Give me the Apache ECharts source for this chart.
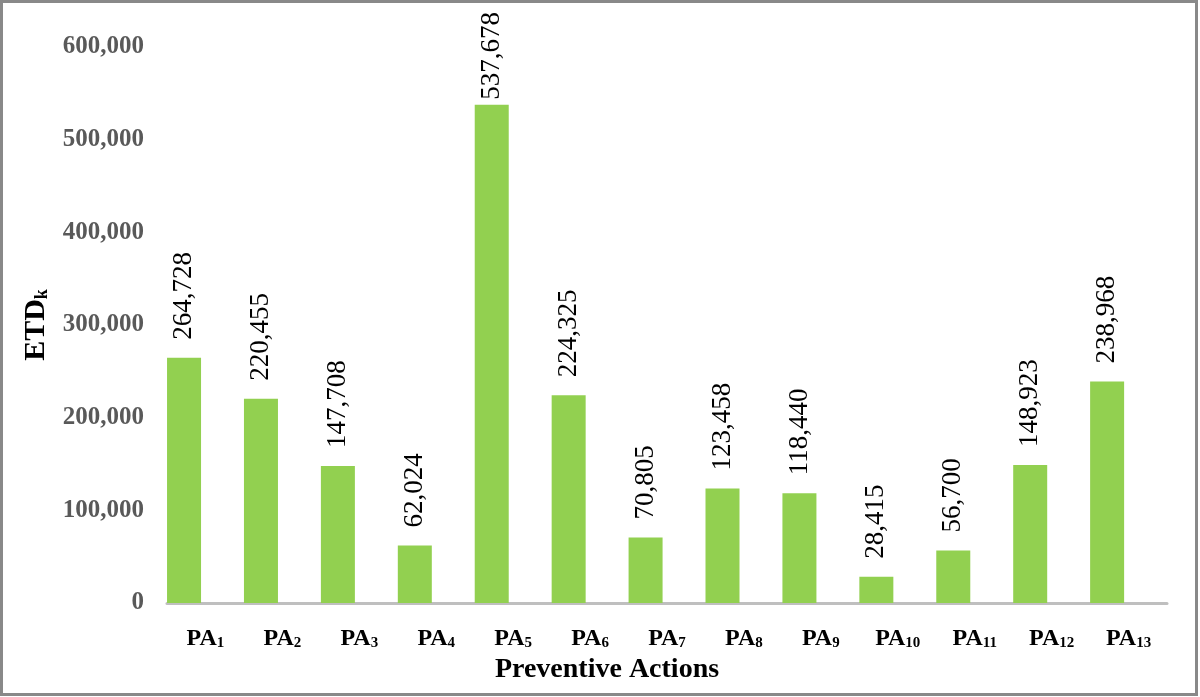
<!DOCTYPE html>
<html>
<head>
    <meta charset="UTF-8">
    <title>ETDk - Preventive Actions</title>
    <script src="https://cdn.jsdelivr.net/npm/echarts@6/dist/echarts.min.js"></script>
    <style>
        html, body { margin: 0; padding: 0; background: #fff; }
        #chart { width: 1200px; height: 697px; }
    </style>
</head>
<body>
<div id="chart"></div>
<script type="text/javascript">
    // data
    var categories = ['1', '2', '3', '4', '5', '6', '7', '8', '9', '10', '11', '12', '13'];
    var etdValues = [264728, 220455, 147708, 62024, 537678, 224325, 70805, 123458, 118440, 28415, 56700, 148923, 238968];
    var yTicks = [0, 100000, 200000, 300000, 400000, 500000, 600000];

    var serif = "'Liberation Serif', 'Times New Roman', serif";
    var labelFont = 27;
    var labelGap = 18;

    function fmt(v) {
        return String(v).replace(/\B(?=(\d{3})+(?!\d))/g, ',');
    }

    var myChart = echarts.init(document.getElementById('chart'));

    var option = {
        backgroundColor: '#ffffff',
        animation: false,
        grid: {
            left: 167,
            right: 33,
            top: 47,
            bottom: 94
        },
        xAxis: {
            type: 'category',
            data: categories,
            axisLine: { show: true, lineStyle: { color: '#BFBFBF', width: 3 } },
            axisTick: { show: false },
            axisLabel: {
                interval: 0,
                margin: 22,
                formatter: function (v) { return '{a|PA}{s|' + v + '}'; },
                rich: {
                    a: { fontFamily: serif, fontWeight: 'bold', fontSize: 24, color: '#000', lineHeight: 26, verticalAlign: 'bottom' },
                    s: { fontFamily: serif, fontWeight: 'bold', fontSize: 15, color: '#000', lineHeight: 26, verticalAlign: 'bottom' }
                }
            }
        },
        yAxis: {
            type: 'value',
            min: yTicks[0],
            max: yTicks[yTicks.length - 1],
            interval: yTicks[1] - yTicks[0],
            name: '{a|ETD}{s|k}',
            nameLocation: 'middle',
            nameGap: 116,
            nameRotate: 90,
            nameTextStyle: {
                rich: {
                    a: { fontFamily: serif, fontWeight: 'bold', fontSize: 30, color: '#000', lineHeight: 32, verticalAlign: 'bottom' },
                    s: { fontFamily: serif, fontWeight: 'bold', fontSize: 18, color: '#000', lineHeight: 32, verticalAlign: 'bottom' }
                }
            },
            axisLine: { show: false },
            axisTick: { show: false },
            splitLine: { show: false },
            axisLabel: {
                margin: 23,
                fontFamily: serif,
                fontWeight: 'bold',
                fontSize: 25,
                color: '#595959',
                formatter: function (v) { return fmt(v); }
            }
        },
        series: [
            {
                name: 'ETDk',
                type: 'bar',
                barWidth: 34,
                barGap: '26%',
                data: etdValues,
                itemStyle: { color: '#92D050' },
                label: {
                    show: true,
                    position: 'top',
                    distance: labelGap,
                    rotate: 90,
                    align: 'left',
                    verticalAlign: 'middle',
                    fontFamily: serif,
                    fontSize: labelFont,
                    color: '#000',
                    formatter: function (p) { return fmt(p.value); }
                }
            },
            {
                // empty companion series, keeps bars on the left half of each slot
                name: 'blank',
                type: 'bar',
                barWidth: 34,
                data: categories.map(function () { return '-'; }),
                itemStyle: { color: 'transparent' }
            }
        ],
        graphic: [
            {
                type: 'rect',
                shape: { x: 1.5, y: 1.5, width: 1195, height: 693 },
                style: { fill: 'none', stroke: '#898989', lineWidth: 3 },
                silent: true
            },
            {
                type: 'text',
                x: 607,
                y: 670,
                style: {
                    text: 'Preventive Actions',
                    fontFamily: serif,
                    fontWeight: 'bold',
                    fontSize: 28,
                    fill: '#000',
                    align: 'center',
                    verticalAlign: 'middle'
                }
            }
        ]
    };
    myChart.setOption(option);

    // labels that would run past the top of the frame sit closer to their bar
    var fitted = etdValues.map(function (v, i) {
        var barTop = myChart.convertToPixel({ gridIndex: 0 }, [i, v])[1];
        var len = echarts.format.getTextRect
            ? echarts.format.getTextRect(fmt(v), labelFont + 'px ' + serif).width
            : fmt(v).length * labelFont * 0.47;
        var room = barTop - len - 12;
        if (room < labelGap) {
            return { value: v, label: { distance: Math.max(2, room) } };
        }
        return v;
    });
    myChart.setOption({ series: [{ data: fitted }] });
</script>
</body>
</html>
